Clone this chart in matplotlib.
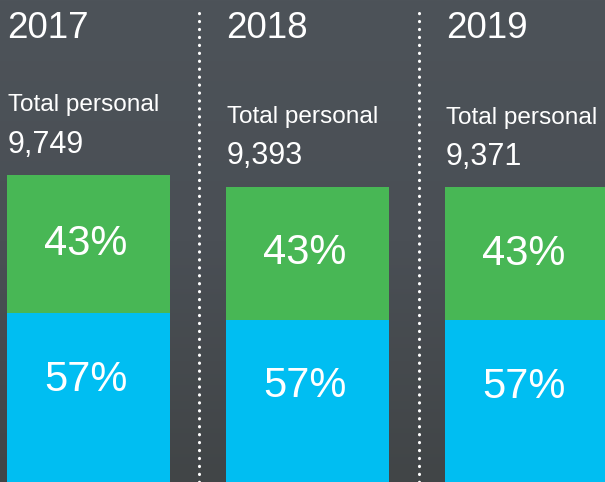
import numpy as np
import matplotlib.pyplot as plt

# Data
years = ["2017", "2018", "2019"]
totals = [9749, 9393, 9371]
share_top = [43, 43, 43]      # green segment, %
share_bottom = [57, 57, 57]   # blue segment, %

green = "#48B755"
blue = "#00BEF2"

plt.rcParams["font.family"] = ["Liberation Sans", "DejaVu Sans"]

fig = plt.figure(figsize=(6.05, 4.82), dpi=100)
ax = fig.add_axes([0, 0, 1, 1])

# Background gradient (dark grey photo look)
grad = np.linspace(0, 1, 256).reshape(-1, 1)
bg = plt.matplotlib.colors.LinearSegmentedColormap.from_list(
    "bg", ["#4D5359", "#4A4F55", "#414547"])
ax.imshow(grad, cmap=bg, aspect="auto", extent=[0, 1, 0, 1],
          transform=ax.transAxes, zorder=0)

x = np.arange(len(years))
width = 0.745
bottom_vals = np.array(totals) * np.array(share_bottom) / 100
top_vals = np.array(totals) * np.array(share_top) / 100

ax.bar(x, bottom_vals, width, color=blue, zorder=2)
ax.bar(x, top_vals, width, bottom=bottom_vals, color=green, zorder=2)

ax.set_xlim(-0.404, 2.358)
ax.set_ylim(425, 15062)
ax.axis("off")

# Dotted separators
for sx in [0.505, 1.509]:
    ax.plot([sx, sx], [425, 14800], color="white", lw=2.2,
            linestyle=(0, (0.1, 2.5)), dash_capstyle="round", zorder=3)

for i, yr in enumerate(years):
    left = x[i] - width / 2
    ax.text(left + 0.003, 0.921, yr, transform=ax.get_xaxis_transform(),
            color="white", fontsize=26.5, va="baseline", ha="left")
    ax.annotate("Total personal", (left + 0.003, totals[i]),
                xytext=(0, 46), textcoords="offset points",
                color="white", fontsize=17.6, va="baseline", ha="left")
    ax.annotate(f"{totals[i]:,}", (left + 0.003, totals[i]),
                xytext=(0, 16), textcoords="offset points",
                color="white", fontsize=22, va="baseline", ha="left")
    ax.annotate(f"{share_top[i]}%", (x[i], bottom_vals[i] + top_vals[i] / 2),
                xytext=(-2, 0), textcoords="offset points",
                color="white", fontsize=30, va="center", ha="center", zorder=4)
    ax.annotate(f"{share_bottom[i]}%", (x[i], bottom_vals[i]),
                xytext=(-2, -48), textcoords="offset points",
                color="white", fontsize=30, va="center", ha="center", zorder=4)

fig.savefig("out.png", dpi=100)
